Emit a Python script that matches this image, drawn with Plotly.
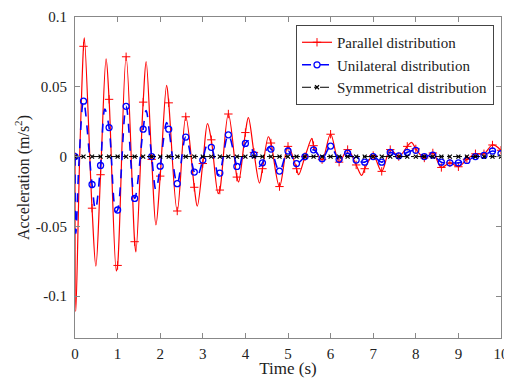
import plotly.graph_objects as go

# Sample times of the plotted markers (every 0.2 s)
mark_t = [round(0.2 * i, 1) for i in range(51)]

# Parallel distribution: values at marker times
par_mark = [0.0, 0.079, -0.037, -0.013, 0.041, -0.078, 0.0715, -0.061, 0.039, -0.002,
            -0.014, 0.0385, -0.039, 0.0285, -0.022, -0.005, 0.012, -0.024, 0.0305, -0.0147,
            0.0172, 0.003, -0.0087, 0.0097, -0.0215, 0.0073, -0.0087, 0.0, 0.0078, -0.0022,
            0.016, -0.004, 0.005, -0.006, -0.0087, 0.0007, -0.0106, 0.005, 0.0, 0.0073,
            0.0055, -0.001, 0.0026, -0.0078, -0.0045, -0.0073, -0.002, 0.002, 0.002, 0.0083,
            0.0045]
# Parallel distribution: extra points (peaks / troughs) between markers
par_ext_t = [0.02, 0.11, 0.22, 0.49, 0.73, 0.97, 1.43, 1.67, 1.90, 2.15, 2.87, 3.11,
             3.36, 3.84, 4.07, 4.33, 4.54, 5.25, 5.56, 6.73, 7.90]
par_ext_a = [-0.111, 0.0, 0.085, -0.0785, 0.070, -0.082, -0.0683, 0.068, -0.049, 0.051,
             -0.0355, 0.0236, -0.0265, -0.0182, 0.0279, -0.019, 0.0142, -0.013, 0.013,
             -0.0135, 0.0102]

# Unilateral distribution
uni_mark = [0.0, 0.0397, -0.020, -0.0064, 0.0208, -0.0383, 0.036, -0.030, 0.0196, 0.0,
            -0.0069, 0.0196, -0.0194, 0.014, -0.0111, -0.0025, 0.0066, -0.0118, 0.0156, -0.0071,
            0.0094, 0.0014, -0.0045, 0.0054, -0.0104, 0.004, -0.005, 0.0, 0.0048, -0.0015,
            0.0075, -0.002, 0.0025, -0.0025, -0.004, 0.0, -0.004, 0.003, 0.0005, 0.003,
            0.0045, 0.0, 0.001, -0.004, -0.0045, -0.0045, -0.0028, 0.0, 0.0008, 0.004,
            0.002]
uni_ext_t = [0.02, 0.10, 0.48, 0.70, 0.96, 1.67, 1.90, 2.15, 2.87, 3.10, 3.36, 3.84,
             4.07, 4.33, 4.54]
uni_ext_a = [-0.055, 0.0, -0.038, 0.034, -0.0395, 0.033, -0.024, 0.0243, -0.014, 0.0078,
             -0.013, -0.009, 0.0113, -0.007, 0.0066]

# Symmetrical distribution
sym_mark = [0.0, 0.0, 0.0, 0.0, 0.0, 0.0, 0.0, 0.0, 0.0, 0.0,
            0.0, 0.0, 0.0, 0.0, 0.0, 0.0, 0.0, 0.0, 0.0, 0.0,
            0.0, 0.0, 0.0, 0.0, 0.0, 0.0, 0.0, 0.0, 0.0, 0.0,
            0.0, 0.0, 0.0, 0.0, 0.0, 0.0, 0.0, 0.0, 0.0, 0.0,
            0.0, 0.0, 0.0, 0.0, 0.0, 0.0, 0.0, 0.0, 0.0, 0.0,
            0.0]
sym_ext_t = []
sym_ext_a = []

x_ticks = [0, 1, 2, 3, 4, 5, 6, 7, 8, 9, 10]
y_ticks = [-0.1, -0.05, 0, 0.05, 0.1]
y_ticktext = ['-0.1', '-0.05', '0', '0.05', '0.1']

FONT = 'Liberation Serif'


def merged(mark, ext_t, ext_a):
    pts = [(t, a, True) for t, a in zip(mark_t, mark)] + [(t, a, False) for t, a in zip(ext_t, ext_a)]
    pts.sort(key=lambda p: p[0])
    return [p[0] for p in pts], [p[1] for p in pts], [p[2] for p in pts]


def add_series(name, mark, ext_t, ext_a, color, dash, symbol, msize, lw, mlw):
    xs, ys, vis = merged(mark, ext_t, ext_a)
    cols = [color if v else 'rgba(0,0,0,0)' for v in vis]
    fig.add_trace(go.Scatter(
        x=xs, y=ys, name=name, mode='lines+markers',
        line=dict(color=color, width=lw, dash=dash, shape='spline', smoothing=1.0),
        marker=dict(symbol=symbol, size=msize, color=cols,
                    line=dict(color=cols, width=mlw)),
    ))


fig = go.Figure()
add_series('Parallel distribution', par_mark, par_ext_t, par_ext_a,
           '#ff0000', 'solid', 'cross-thin', 6, 1.2, 1)
add_series('Unilateral distribution', uni_mark, uni_ext_t, uni_ext_a,
           '#0000ff', 'dash', 'circle-open', 6, 1.6, 1.3)
add_series('Symmetrical distribution', sym_mark, sym_ext_t, sym_ext_a,
           '#000000', 'dashdot', 'x-thin', 4, 1.0, 1.2)

axis_common = dict(showline=True, linecolor='#888888', linewidth=1, mirror='ticks',
                   ticks='inside', ticklen=5, tickcolor='#888888', showgrid=False,
                   zeroline=False, automargin=False,
                   tickfont=dict(family=FONT, size=15, color='#222222'))

# The page adds an 8 px body margin, so the figure is sized 8 px smaller.
fig.update_layout(
    width=504, height=370,
    margin=dict(l=67, r=11, t=9, b=40),
    paper_bgcolor='white', plot_bgcolor='white',
    font=dict(family=FONT, size=15, color='#222222'),
    xaxis=dict(range=[0, 10], tickvals=x_ticks, ticklabelstandoff=2,
               title=dict(text='Time (s)', font=dict(family=FONT, size=17), standoff=4),
               **axis_common),
    yaxis=dict(range=[-0.13, 0.1], tickvals=y_ticks, ticktext=y_ticktext, ticklabelstandoff=4,
               title=dict(text='Acceleration (m/s<sup>2</sup>)', font=dict(family=FONT, size=16), standoff=2),
               **axis_common),
    legend=dict(x=0.9836, y=0.975, xanchor='right', yanchor='top',
                bgcolor='white', bordercolor='#444444', borderwidth=1,
                font=dict(family=FONT, size=15, color='#222222'),
                tracegroupgap=0, itemwidth=30),
    showlegend=True,
)

fig.write_html('out.html')
